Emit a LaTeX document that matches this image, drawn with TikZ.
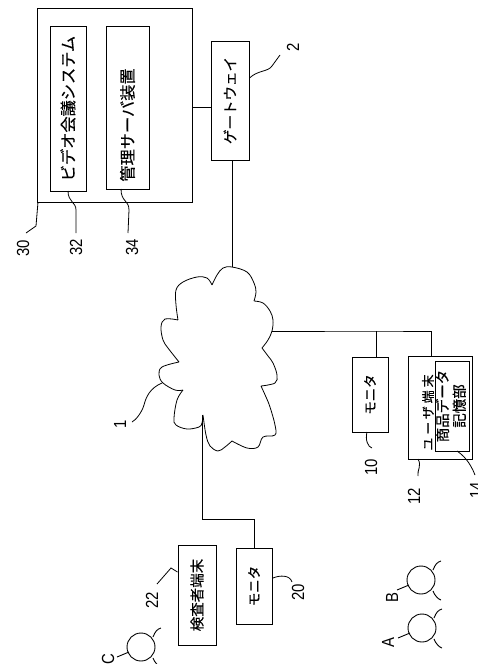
\documentclass[tikz,border=0pt]{standalone}
\usepackage{graphicx}
\usepackage{fontspec}
\setmainfont{Liberation Sans}[FakeStretch=0.85]
\newfontfamily\jpfont{Noto Sans CJK JP}[FakeBold=0.3]
\newcommand{\tate}[1]{\rotatebox{90}{#1}}

\tikzset{
	box/.style={draw, line width=1pt, inner sep=0pt, anchor=center, font=\jpfont\fontsize{14.5}{15.5}\selectfont},
	widebox/.style={box, font=\jpfont\fontsize{16.2}{17}\selectfont},
	wire/.style={line width=1pt},
	leader/.style={line width=0.8pt},
	refno/.style={rotate=90, inner sep=0pt, font=\fontsize{17.5}{17.5}\selectfont},
	headline/.style={line width=0.9pt},
}

\begin{document}
\begin{tikzpicture}[x=1pt, y=-1pt]
\useasboundingbox (0,0) rectangle (478,664);
\clip (0,0) rectangle (478,664);

% server side
\node[box, minimum width=155pt, minimum height=194pt] (center30) at (114.5,105) {};
\node[widebox, minimum width=36pt, minimum height=165pt] (video32) at (68,108.5) {\tate{ビデオ会議システム}};
\node[widebox, minimum width=43pt, minimum height=163pt] (admin34) at (127.5,107.5) {\tate{管理サーバ装置\hspace{35pt}}};
\node[box, minimum width=38pt, minimum height=119pt] (gate2) at (230,100.5) {\tate{ゲートウェイ}};

% terminals
\node[box, minimum width=36pt, minimum height=75pt, font=\jpfont\fontsize{13.5}{14}\selectfont] (mon10) at (370,394.5) {\tate{モニタ}};
\node[box, minimum width=64pt, minimum height=103pt] (user12) at (440,407.5) {};
\node[inner sep=0pt, font=\jpfont\fontsize{13}{14}\selectfont\addfontfeature{LetterSpace=22}] (user12text) at (428,412.5) {\tate{ユーザ端末}};
\node[box, minimum width=31pt, minimum height=90pt] (store14) at (452.5,406) {\tate{\begin{tabular}{@{}c@{}}商品データ\\記憶部\end{tabular}}};
\node[box, minimum width=36pt, minimum height=76pt, font=\jpfont\fontsize{13.5}{14}\selectfont] (mon20) at (254,586) {\tate{モニタ}};
\node[box, minimum width=38pt, minimum height=100pt] (exam22) at (197,595) {\tate{検査者端末}};

% network
\coordinate (cloudtop) at (232,267);
\coordinate (cloudright) at (272,331);
\coordinate (cloudbottom) at (203,415);
\draw[leader]
	plot[smooth, tension=0.6] coordinates {(212,285) (217,275) (223,268) (cloudtop) (247,272) (254,283) (256,292) (254,301)}
	plot[smooth, tension=0.6] coordinates {(254,301) (263,303) (270,311) (273,320) (cloudright) (268,340) (262,348)}
	plot[smooth, tension=0.6] coordinates {(262,348) (268,356) (273,363) (277,375) (275,383) (261,386)}
	plot[smooth, tension=0.6] coordinates {(261,386) (266,397) (270,407) (275,425) (275,435) (263,437) (258,447) (247,448) (232,441)}
	plot[smooth, tension=0.6] coordinates {(232,441) (225,447) (218,451) (210,446) (206,435) (cloudbottom)}
	plot[smooth, tension=0.6] coordinates {(cloudbottom) (202,423) (199,427) (187,429) (176,425) (174,418) (177,400) (183,390)}
	plot[smooth, tension=0.6] coordinates {(183,390) (175,390) (163,383) (159,375) (162,367) (179,362)}
	plot[smooth, tension=0.6] coordinates {(179,362) (168,348) (163,340) (161,327) (165,319) (178,320)}
	plot[smooth, tension=0.6] coordinates {(178,320) (176,305) (176,290) (183,282) (197,277) (207,278) (212,285)};

% links
\coordinate (joint10) at (376,331);
\coordinate (joint12) at (431,331);
\coordinate (joint20) at (202,519);
\draw[wire] (center30.east |- 0,107) -- (gate2.west |- 0,107);
\draw[wire] (cloudtop |- gate2.south) -- (cloudtop);
\draw[wire] (cloudright) -- (joint10) -- (joint12) -- (joint12 |- user12.north);
\draw[wire] (joint10) -- (joint10 |- mon10.north);
\draw[wire] (cloudbottom -| joint20) -- (joint20) -- (mon20.north |- joint20) -- (mon20.north);

% reference numbers
\node[refno] (no1) at (120,424) {1};
\node[refno] (no2) at (293,47) {2};
\node[refno] (no10) at (371,467) {10};
\node[refno] (no12) at (414,496) {12};
\node[refno] (no14) at (476,490) {14};
\node[refno] (no20) at (298,592) {20};
\node[refno] (no22) at (152,600) {22};
\node[refno] (no30) at (23,248) {30};
\node[refno] (no32) at (76,247) {32};
\node[refno] (no34) at (132,247) {34};

\coordinate (lead1) at (162,383);
\coordinate (lead2) at (280,55);
\coordinate (lead10) at (372,448);
\coordinate (lead12) at (418,476);
\coordinate (lead14) at (475,475);
\coordinate (lead20) at (292,582);
\coordinate (lead22) at (157,584);
\coordinate (lead30) at (26,233);
\coordinate (lead32) at (76,233);
\coordinate (lead34) at (128,233);
\draw[leader] (lead1) .. controls (150,388) and (146,397) .. (144,405) .. controls (142,412) and (136,420) .. (132,422);
\draw[leader] (gate2.east |- 0,78) .. controls (258,70) and (268,72) .. (272,66) -- (lead2);
\draw[leader] (367,432) .. controls (365,440) and (368,447) .. (lead10);
\draw[leader] (418,459) .. controls (422,466) and (417,470) .. (lead12);
\draw[leader] (457,451) .. controls (463,455) and (470,462) .. (lead14);
\draw[leader] (273,578) .. controls (280,575) and (290,575) .. (lead20);
\draw[leader] (exam22.west |- 0,572) -- (171,568) -- (lead22);
\draw[leader] (38,202) -- (36,226) -- (lead30);
\draw[leader] (68,191) .. controls (68,202) and (76,202) .. (76,210) -- (lead32);
\draw[leader] (121,189) .. controls (121,202) and (129,200) .. (129,210) -- (lead34);

% people
\foreach \who/\x/\y/\lx/\ly in {A/422/628/388/643, B/421/580/392/598, C/141/647/108/659} {
	\node[refno] (person\who) at (\lx,\ly) {\who};
	\draw[headline] (\x,\y) circle (14);
	\draw[headline] (\x-12,\y+5) -- (\x-24,\y+10);
	\draw[headline] (\x+12,\y-10) .. controls (\x+14,\y-15) and (\x+16,\y-18) .. (\x+20,\y-19);
	\draw[headline] (\x+12,\y+11) .. controls (\x+14,\y+16) and (\x+17,\y+19) .. (\x+20,\y+20);
}
\end{tikzpicture}
\end{document}
